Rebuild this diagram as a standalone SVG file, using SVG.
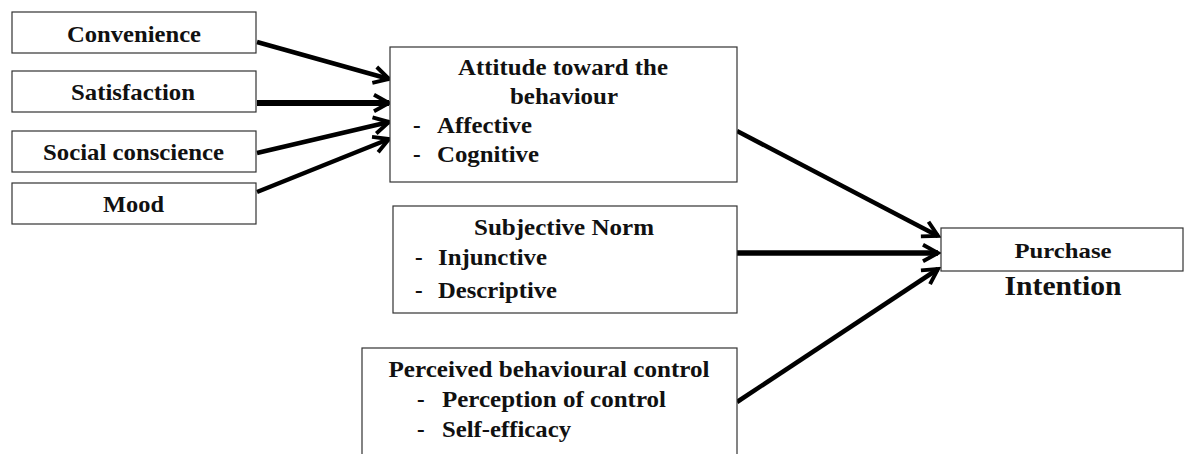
<svg xmlns="http://www.w3.org/2000/svg" width="1184" height="454" viewBox="0 0 1184 454">
<style>
.box{fill:#fff;stroke:#333;stroke-width:1.2}
.t{font-family:"Liberation Serif","Times New Roman",serif;font-weight:bold;font-size:23px;fill:#111}
.c{text-anchor:middle}
.ln{stroke:#000;stroke-width:4.5;fill:none;marker-end:url(#ah)}
</style>
<defs>
<marker id="ah" viewBox="0 0 14 14" refX="12" refY="7" markerWidth="21" markerHeight="21" markerUnits="userSpaceOnUse" orient="auto">
<path d="M2,1.5 L12,7 L2,12.5" fill="none" stroke="#000" stroke-width="2.6" stroke-linejoin="miter"/>
</marker>
</defs>
<g id="connectors">
<line class="ln" x1="257" y1="42" x2="389" y2="79"/>
<line class="ln" x1="257" y1="103" x2="389" y2="103" style="stroke-width:6"/>
<line class="ln" x1="257" y1="153" x2="389" y2="122"/>
<line class="ln" x1="257" y1="192" x2="389" y2="139"/>
<line class="ln" x1="737" y1="131" x2="938" y2="236"/>
<line class="ln" x1="737" y1="253" x2="938" y2="253" style="stroke-width:5.5"/>
<line class="ln" x1="737" y1="402" x2="938" y2="269"/>
</g>
<g id="convenience">
<rect class="box" x="12" y="12" width="244" height="41"/>
<text class="t c" x="134" y="42" textLength="134" lengthAdjust="spacingAndGlyphs">Convenience</text>
</g>
<g id="satisfaction">
<rect class="box" x="12" y="71" width="244" height="41"/>
<text class="t c" x="133" y="100" textLength="124" lengthAdjust="spacingAndGlyphs">Satisfaction</text>
</g>
<g id="social">
<rect class="box" x="12" y="131" width="244" height="41"/>
<text class="t c" x="133.5" y="160" textLength="181" lengthAdjust="spacingAndGlyphs">Social conscience</text>
</g>
<g id="mood">
<rect class="box" x="12" y="183" width="244" height="41"/>
<text class="t c" x="133.5" y="212" textLength="61" lengthAdjust="spacingAndGlyphs">Mood</text>
</g>
<g id="attitude">
<rect class="box" x="390" y="47" width="347" height="135"/>
<text class="t c" x="563" y="75" textLength="210" lengthAdjust="spacingAndGlyphs">Attitude toward the</text>
<text class="t c" x="564" y="104" textLength="108" lengthAdjust="spacingAndGlyphs">behaviour</text>
<text class="t" x="413" y="133">-</text>
<text class="t" x="437" y="133" textLength="95" lengthAdjust="spacingAndGlyphs">Affective</text>
<text class="t" x="413" y="162">-</text>
<text class="t" x="437" y="162" textLength="102" lengthAdjust="spacingAndGlyphs">Cognitive</text>
</g>
<g id="subjective">
<rect class="box" x="393" y="206" width="344" height="107"/>
<text class="t c" x="564" y="235" textLength="180" lengthAdjust="spacingAndGlyphs">Subjective Norm</text>
<text class="t" x="415" y="265">-</text>
<text class="t" x="438" y="265" textLength="109" lengthAdjust="spacingAndGlyphs">Injunctive</text>
<text class="t" x="415" y="298">-</text>
<text class="t" x="438" y="298" textLength="119" lengthAdjust="spacingAndGlyphs">Descriptive</text>
</g>
<g id="perceived">
<rect class="box" x="362" y="348" width="375" height="112"/>
<text class="t c" x="549" y="377" textLength="321" lengthAdjust="spacingAndGlyphs">Perceived behavioural control</text>
<text class="t" x="417" y="407">-</text>
<text class="t" x="442" y="407" textLength="224" lengthAdjust="spacingAndGlyphs">Perception of control</text>
<text class="t" x="417" y="437">-</text>
<text class="t" x="442" y="437" textLength="129" lengthAdjust="spacingAndGlyphs">Self-efficacy</text>
</g>
<g id="purchase">
<rect class="box" x="941" y="228" width="242" height="43"/>
<text class="t c" x="1063" y="258" style="font-size:21px" textLength="97" lengthAdjust="spacingAndGlyphs">Purchase</text>
<text class="t c" x="1063" y="295" style="font-size:28px" textLength="117" lengthAdjust="spacingAndGlyphs">Intention</text>
</g>
</svg>
